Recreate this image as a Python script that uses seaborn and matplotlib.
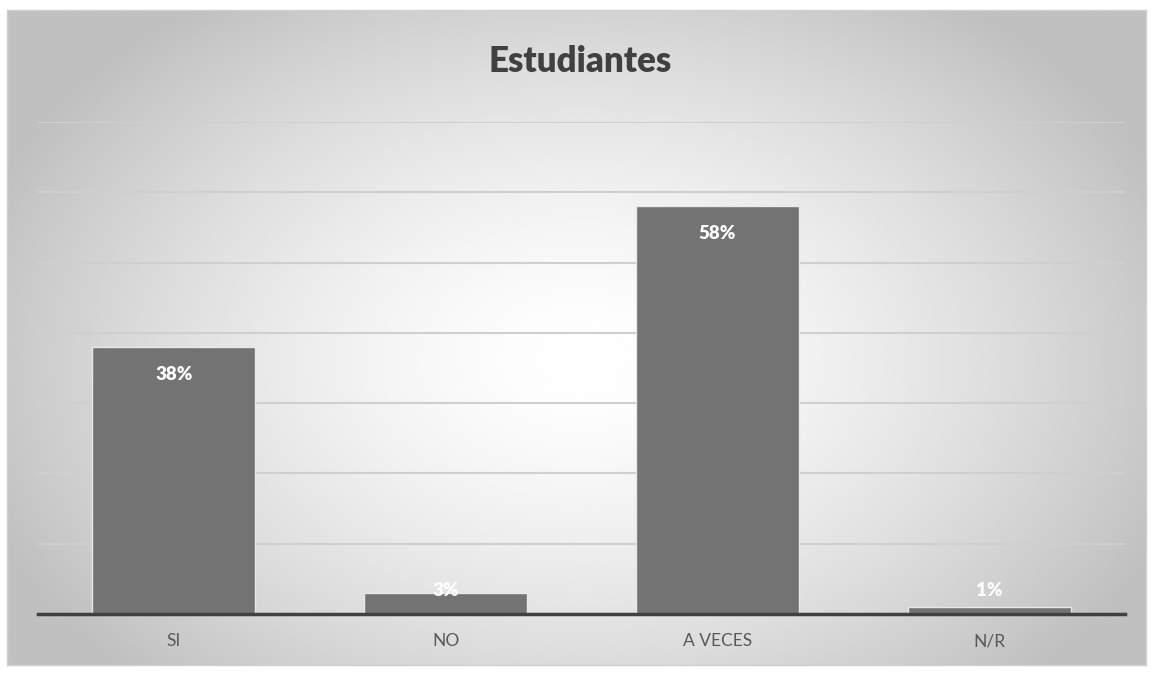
import numpy as np
import pandas as pd
import matplotlib
matplotlib.use("Agg")
import matplotlib.pyplot as plt
import seaborn as sns

categories = ["SI", "NO", "A VECES", "N/R"]
percentages = [38, 3, 58, 1]
labels = ["38%", "3%", "58%", "1%"]

sns.set_theme(style="white")
plt.rcParams["font.family"] = ["Lato", "DejaVu Sans"]

df = pd.DataFrame({"categoria": categories, "valor": percentages})

W, H = 1152, 673
fig = plt.figure(figsize=(W / 100, H / 100), dpi=100)
fig.patch.set_facecolor("white")

# radial gradient background of the chart area
bg = fig.add_axes([7 / W, 1 - 665 / H, (1146 - 7) / W, (665 - 10) / H])
xx, yy = np.meshgrid(np.linspace(0, 1146 - 7, 400), np.linspace(0, 665 - 10, 300))
cx, cy = 573, 350
r = np.sqrt((xx - cx) ** 2 + ((yy - cy) / 0.7) ** 2)
t = np.clip(r / 640, 0, 1)
shade = 1.0 - 0.25 * t ** 1.5
bg.imshow(shade, cmap="gray", vmin=0, vmax=1, aspect="auto",
          extent=[0, 1, 0, 1], interpolation="bilinear")
bg.set_xticks([])
bg.set_yticks([])
for s in bg.spines.values():
    s.set_color("#d0d0d0")
    s.set_linewidth(1)

ax = fig.add_axes([38 / W, 1 - 614 / H, (1125 - 38) / W, (614 - 122) / H])
ax.patch.set_alpha(0)
sns.barplot(data=df, x="categoria", y="valor", color="#737373", width=0.6,
            edgecolor="#e8e8e8", linewidth=1, saturation=1, ax=ax, zorder=3)
ax.set_ylim(0, 70)
ax.set_yticks(np.arange(0, 71, 10))
ax.yaxis.grid(True, color="#cfcfcf", linewidth=1.5, zorder=0)
ax.set_yticklabels([])
ax.tick_params(axis="y", length=0)
ax.tick_params(axis="x", length=0, pad=14, labelsize=12.5, labelcolor="#595959")
ax.set_xlabel("")
ax.set_ylabel("")
for name, s in ax.spines.items():
    s.set_visible(name == "bottom")
ax.spines["bottom"].set_color("#404040")
ax.spines["bottom"].set_linewidth(2.5)
ax.spines["bottom"].set_zorder(4)

for i, (v, lab) in enumerate(zip(percentages, labels)):
    ax.text(i, max(v - 3.9, 3.4), lab, ha="center", va="center",
            color="white", fontsize=13.5, fontweight="heavy", zorder=5)

fig.text(580 / W, 1 - 62 / H, "Estudiantes", ha="center", va="center",
         fontsize=25, fontweight="heavy", color="#404040")

fig.savefig("out.png", dpi=100)
